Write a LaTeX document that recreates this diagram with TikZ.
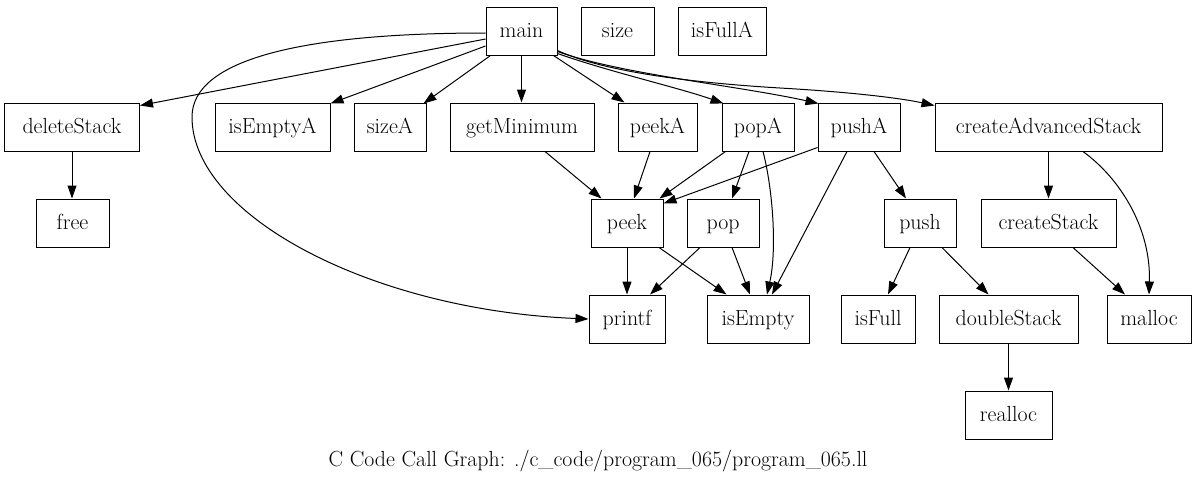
\documentclass[tikz,border=0pt]{standalone}
\usetikzlibrary{arrows.meta,calc}
\newcommand\gfont{\fontsize{16.4}{19}\selectfont}
\begin{document}
\begin{tikzpicture}[x=0.75pt,y=-0.75pt,
  fn/.style={draw,line width=0.75pt,minimum height=36pt,inner sep=0pt,text height=9pt,text depth=0pt,font=\gfont},
  call/.style={-{Triangle[length=9.75pt,width=6.75pt]},line width=0.75pt}]
\useasboundingbox (0,0) rectangle (1196,480);
% row 1
\node[fn,minimum width=53.25pt] (main) at (521.5,31) {main};
\node[fn,minimum width=54.75pt] (size) at (617.5,31) {size};
\node[fn,minimum width=66pt] (isFullA) at (722,31) {isFullA};
% row 2
\node[fn,minimum width=101.25pt] (deleteStack) at (72,127) {deleteStack};
\node[fn,minimum width=86.25pt] (isEmptyA) at (272.5,127) {isEmptyA};
\node[fn,minimum width=54pt] (sizeA) at (390,127) {sizeA};
\node[fn,minimum width=108pt] (getMinimum) at (522,127) {getMinimum};
\node[fn,minimum width=59.25pt] (peekA) at (657.5,127) {peekA};
\node[fn,minimum width=54pt] (popA) at (758,127) {popA};
\node[fn,minimum width=61.5pt] (pushA) at (859,127) {pushA};
\node[fn,minimum width=170.25pt] (createAdvancedStack) at (1048.5,127) {createAdvancedStack};
% row 3
\node[fn,minimum width=54.75pt] (free) at (72.5,223) {free};
\node[fn,minimum width=54pt] (peek) at (627,223) {peek};
\node[fn,minimum width=54pt] (pop) at (723,223) {pop};
\node[fn,minimum width=54pt] (push) at (920,223) {push};
\node[fn,minimum width=101.25pt] (createStack) at (1048.5,223) {createStack};
% row 4
\node[fn,minimum width=57pt] (printf) at (627,319) {printf};
\node[fn,minimum width=76.5pt] (isEmpty) at (758,319) {isEmpty};
\node[fn,minimum width=55.5pt] (isFull) at (878,319) {isFull};
\node[fn,minimum width=104.25pt] (doubleStack) at (1008.5,319) {doubleStack};
\node[fn,minimum width=63pt] (malloc) at (1149,319) {malloc};
% row 5
\node[fn,minimum width=65.25pt] (realloc) at (1008.5,415) {realloc};
% title
\node[font=\gfont,inner sep=0pt] (title) at (598,461) {C Code Call Graph: ./c\_code/program\_065/program\_065.ll};

% edges from main
\draw[call] ($(main.west)+(0,2)$) .. controls (300,33) and (192,60) .. (192,117)
   .. controls (192,215) and (370,310) .. (printf.west);
\draw[call] ($(main.west)+(0,8)$) -- ($(deleteStack.north east)+(0,3)$);
\draw[call] ($(main.west)+(0,15)$) -- ($(isEmptyA.north east)+(0,1)$);
\draw[call] ($(main.south west)+(5,0)$) -- ($(sizeA.north east)+(-3,1)$);
\draw[call] (main.south) -- (main.south |- getMinimum.north);
\draw[call] ($(main.south east)+(-4,0)$) -- ($(peekA.north west)+(7,0)$);
\draw[call] ($(main.south east)+(0,-2)$) .. controls (610,72) and (680,88) .. ($(popA.north west)+(2,1)$);
\draw[call] ($(main.south east)+(0,-4)$) .. controls (620,74) and (740,86) .. ($(pushA.north west)+(1,1)$);
\draw[call] ($(main.south east)+(0,-5)$) .. controls (600,70) and (680,82) .. (780,88)
   .. controls (850,92) and (900,98) .. ($(createAdvancedStack.north west)+(0,3)$);

% row 2 -> row 3/4
\draw[call] (deleteStack.south) -- (deleteStack.south |- free.north);
\draw[call] ($(getMinimum.south)+(23,0)$) -- ($(peek.north west)+(11,0)$);
\draw[call] ($(peekA.south)+(-7.5,0)$) -- ($(peek.north)+(7,0)$);
\draw[call] ($(popA.south west)+(4,0)$) -- ($(peek.north east)+(-4,0)$);
\draw[call] ($(pushA.south west)+(0,-4)$) -- ($(peek.north east)+(0,5)$);
\draw[call] ($(popA.south)+(-9,0)$) -- ($(pop.north)+(9,0)$);
\draw[call] ($(popA.south)+(5,0)$) .. controls (773,190) and (777,250) .. ($(isEmpty.north)+(9,0)$);
\draw[call] ($(pushA.south)+(-12,0)$) -- ($(isEmpty.north)+(14,0)$);
\draw[call] ($(pushA.south)+(15,0)$) -- ($(push.north)+(-14,0)$);
\draw[call] (createAdvancedStack.south) -- (createAdvancedStack.south |- createStack.north);
\draw[call] ($(createAdvancedStack.south)+(34.5,0)$) .. controls (1122,180) and (1151,230) .. (malloc.north);

% row 3 -> row 4
\draw[call] (peek.south) -- (peek.south |- printf.north);
\draw[call] ($(peek.south)+(32,0)$) -- ($(isEmpty.north west)+(20,0)$);
\draw[call] ($(pop.south)+(-23,0)$) -- ($(printf.north)+(23,0)$);
\draw[call] ($(pop.south)+(9,0)$) -- ($(isEmpty.north)+(-8,0)$);
\draw[call] ($(push.south)+(-10,0)$) -- ($(isFull.north)+(10,0)$);
\draw[call] ($(push.south)+(22,0)$) -- ($(doubleStack.north)+(-20,0)$);
\draw[call] ($(createStack.south)+(24.5,0)$) -- ($(malloc.north)+(-24,0)$);
\draw[call] (doubleStack.south) -- (doubleStack.south |- realloc.north);
\end{tikzpicture}
\end{document}
